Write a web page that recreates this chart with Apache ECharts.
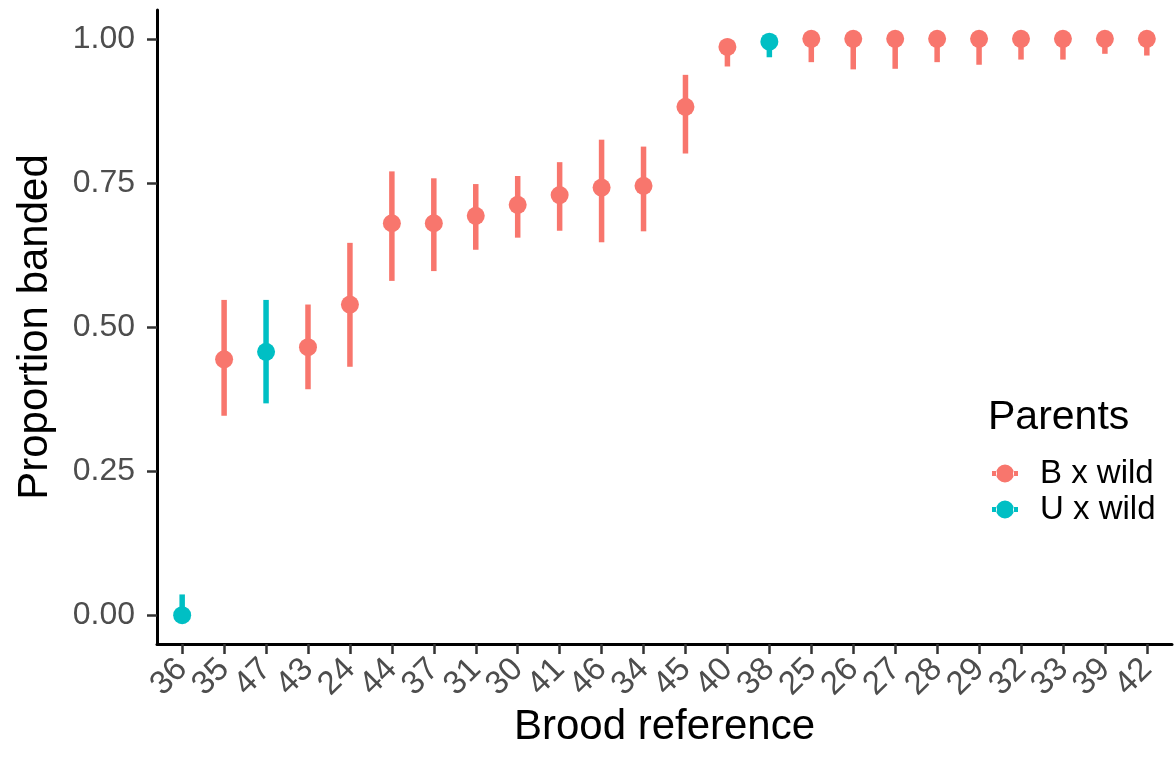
<!DOCTYPE html>
<html><head><meta charset="utf-8">
<script src="https://cdn.jsdelivr.net/npm/echarts@6/dist/echarts.min.js"></script>
<style>html,body{margin:0;padding:0;background:#fff}#c{width:1174px;height:769px}</style>
</head><body><div id="c"></div>
<script>
const categories = ['36','35','47','43','24','44','37','31','30','41','46','34','45','40','38','25','26','27','28','29','32','33','39','42'];
const parents = ['U x wild','B x wild','U x wild','B x wild','B x wild','B x wild','B x wild','B x wild','B x wild','B x wild','B x wild','B x wild','B x wild','B x wild','U x wild','B x wild','B x wild','B x wild','B x wild','B x wild','B x wild','B x wild','B x wild','B x wild'];
const proportion = [0, 0.444, 0.457, 0.465, 0.539, 0.68, 0.68, 0.693, 0.712, 0.729, 0.742, 0.745, 0.882, 0.986, 0.995, 1, 1, 1, 1, 1, 1, 1, 1, 1];
const lower = [0, 0.346, 0.3675, 0.392, 0.431, 0.58, 0.597, 0.634, 0.655, 0.667, 0.647, 0.666, 0.801, 0.952, 0.968, 0.9595, 0.947, 0.948, 0.9595, 0.955, 0.964, 0.964, 0.974, 0.971];
const upper = [0.036, 0.547, 0.547, 0.539, 0.646, 0.770, 0.758, 0.748, 0.762, 0.786, 0.825, 0.813, 0.9375, 1, 1, 1, 1, 1, 1, 1, 1, 1, 1, 1];
const groups = ['B x wild', 'U x wild'];
const yTicks = [0, 0.25, 0.5, 0.75, 1];

const colors = {'B x wild': '#F8766D', 'U x wild': '#00BFC4'};
const chart = echarts.init(document.getElementById('c'));
const FONT = '"Liberation Sans", Arial, sans-serif';
const idx = categories.map((_, i) => i);

// plot area geometry (ggplot-style 0.6 category expansion)
const G = {left: 157, right: 2, top: 10, bottom: 125};
const W = 1174 - G.left - G.right;
const step = W / (categories.length + 0.2);
const labelGrid = {left: G.left + 0.1 * step, right: G.right + 0.1 * step, top: G.top, bottom: G.bottom};

function renderItem(params, api) {
  const x = api.value(0);
  const c = api.coord([x, api.value(1)]);
  const lo = api.coord([x, api.value(2)]);
  const hi = api.coord([x, api.value(3)]);
  const col = api.visual('color');
  return {
    type: 'group',
    children: [
      {type: 'line', shape: {x1: lo[0], y1: lo[1], x2: hi[0], y2: hi[1]}, style: {stroke: col, lineWidth: 5.5}},
      {type: 'circle', shape: {cx: c[0], cy: c[1], r: 9}, style: {fill: col}}
    ]
  };
}

const icon = 'path://M4,9 a9,9 0 1,0 18,0 a9,9 0 1,0 -18,0 Z M0,6.5 L5,6.5 L5,11.5 L0,11.5 Z M21,6.5 L26,6.5 L26,11.5 L21,11.5 Z';

const series = groups.map(g => ({
  name: g,
  type: 'custom',
  renderItem: renderItem,
  xAxisIndex: 0, yAxisIndex: 0,
  itemStyle: {color: colors[g]},
  encode: {x: 0, y: [1, 2, 3]},
  data: idx.filter(i => parents[i] === g).map(i => [i, proportion[i], lower[i], upper[i]])
}));

chart.setOption({
  animation: false,
  backgroundColor: '#fff',
  title: {
    text: 'Parents', left: 983, top: 392,
    textStyle: {fontFamily: FONT, fontSize: 41, fontWeight: 'normal', color: '#000'}
  },
  legend: {
    data: groups.map(g => ({name: g, icon: icon})),
    orient: 'vertical', left: 987, top: 452,
    itemWidth: 26, itemHeight: 18, itemGap: 3,
    textStyle: {fontFamily: FONT, fontSize: 33, color: '#000', padding: [0, 0, 0, 17]}
  },
  grid: [
    Object.assign({containLabel: false}, G),
    Object.assign({containLabel: false}, labelGrid)
  ],
  xAxis: [{
    type: 'value', gridIndex: 0, min: -0.6, max: 23.6,
    name: 'Brood reference', nameLocation: 'middle', nameGap: 62,
    nameTextStyle: {fontFamily: FONT, fontSize: 42, color: '#000'},
    axisLine: {show: true, onZero: false, lineStyle: {color: '#000', width: 3}},
    axisTick: {show: true, customValues: idx, length: 10, lineStyle: {color: '#333', width: 2.5}},
    axisLabel: {show: false},
    splitLine: {show: false}
  }, {
    type: 'category', gridIndex: 1, data: categories, boundaryGap: true,
    axisLine: {show: false}, axisTick: {show: false},
    axisLabel: {
      interval: 0, rotate: 45, margin: 20,
      fontFamily: FONT, fontSize: 33, color: '#4D4D4D'
    },
    splitLine: {show: false}
  }],
  yAxis: [{
    type: 'value', gridIndex: 0, min: -0.05, max: 1.05,
    name: 'Proportion banded', nameLocation: 'middle', nameGap: 101, nameRotate: 90,
    nameTextStyle: {fontFamily: FONT, fontSize: 42, color: '#000'},
    axisLine: {show: true, onZero: false, lineStyle: {color: '#000', width: 3}},
    axisTick: {show: true, customValues: yTicks, length: 10, lineStyle: {color: '#333', width: 2.5}},
    axisLabel: {
      customValues: yTicks, margin: 22,
      formatter: v => v.toFixed(2),
      fontFamily: FONT, fontSize: 32, color: '#4D4D4D'
    },
    splitLine: {show: false}
  }, {
    type: 'value', gridIndex: 1, min: 0, max: 1, show: false
  }],
  series: series
});
</script></body></html>
